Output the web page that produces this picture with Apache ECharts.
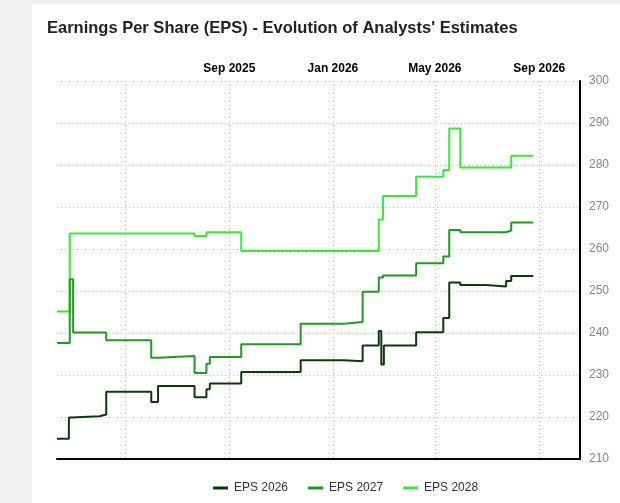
<!DOCTYPE html>
<html>
<head>
<meta charset="utf-8">
<script src="https://cdn.jsdelivr.net/npm/echarts@6/dist/echarts.min.js"></script>
<style>
  html, body { margin: 0; padding: 0; background: #f1f1f1; }
  #card { position: absolute; left: 32px; top: 4px; width: 588px; height: 499px; background: #ffffff; }
  #main { position: absolute; left: 0; top: 0; width: 620px; height: 503px; }
</style>
</head>
<body>
<div id="card"></div>
<div id="main"></div>
<script>
// ---- Data (change points; value holds from date onward) ----
const seriesNames = ['EPS 2026', 'EPS 2027', 'EPS 2028'];

const eps2026Dates  = ['2025-02-10','2025-02-24','2025-02-27','2025-04-01','2025-04-09','2025-06-01','2025-06-09','2025-07-22','2025-08-05','2025-08-09','2025-09-15','2025-11-24','2026-01-14','2026-02-05','2026-02-24','2026-02-27','2026-03-02','2026-04-09','2026-05-11','2026-05-18','2026-05-31','2026-06-30','2026-07-24','2026-07-30','2026-08-25'];
const eps2026Values = [214.8, 219.9, 220.2, 220.6, 226.0, 223.6, 227.4, 224.7, 226.6, 228.0, 230.7, 233.5, 233.3, 237.0, 240.5, 232.5, 237.0, 240.2, 243.6, 252.0, 251.4, 251.1, 252.4, 253.6, 253.6];

const eps2027Dates  = ['2025-02-10','2025-02-25','2025-03-01','2025-04-09','2025-06-01','2025-06-09','2025-07-22','2025-08-05','2025-08-09','2025-09-15','2025-11-24','2026-01-14','2026-02-05','2026-02-24','2026-03-01','2026-04-09','2026-05-11','2026-05-18','2026-05-31','2026-07-24','2026-07-30','2026-08-25'];
const eps2027Values = [237.6, 252.8, 240.1, 238.3, 234.1, 234.5, 230.5, 232.7, 234.3, 237.3, 242.2, 242.6, 249.8, 253.2, 253.7, 256.6, 258.2, 264.5, 264.0, 264.4, 266.3, 266.3];

const eps2028Dates  = ['2025-02-10','2025-02-25','2025-07-22','2025-08-05','2025-09-15','2026-02-24','2026-03-01','2026-04-09','2026-05-11','2026-05-18','2026-05-31','2026-07-30','2026-08-25'];
const eps2028Values = [245.1, 263.7, 263.1, 264.0, 259.5, 267.0, 272.6, 277.2, 278.8, 288.7, 279.4, 282.2, 282.2];

const xMinDate = '2025-02-10';
const xMaxDate = '2026-10-19';
const gridDates  = ['2025-05-01','2025-09-01','2026-01-01','2026-05-01','2026-09-01'];
const labelDates = ['2025-09-01','2026-01-01','2026-05-01','2026-09-01'];
const monthNames = ['Jan','Feb','Mar','Apr','May','Jun','Jul','Aug','Sep','Oct','Nov','Dec'];

const yMin = 210, yMax = 300, yStep = 10;
const colors = ['#0b3b0b', '#1f9a1f', '#35ec35'];

// ---- helpers ----
function toTime(s) {
  const p = s.split('-').map(Number);
  return new Date(p[0], p[1] - 1, p[2]).getTime();
}
function pairs(dates, values) {
  return dates.map((d, i) => [toTime(d), values[i]]);
}

const chart = echarts.init(document.getElementById('main'), null, { renderer: 'canvas' });

const FONT = 'Arial, "Liberation Sans", sans-serif';
const option = {
  backgroundColor: 'transparent',
  animation: false,
  color: colors,
  title: {
    text: "Earnings Per Share (EPS) - Evolution of Analysts' Estimates",
    left: 47,
    top: 20,
    padding: 0,
    textStyle: { fontFamily: FONT, fontSize: 16.5, fontWeight: 'bold', color: '#222' }
  },
  legend: {
    data: seriesNames,
    left: 213,
    top: 482,
    padding: 0,
    itemGap: 20,
    itemWidth: 15,
    itemHeight: 3,
    icon: 'rect',
    textStyle: { fontFamily: FONT, fontSize: 12, color: '#333', padding: [0, 0, 0, 1] }
  },
  grid: { left: 57, right: 40, top: 81, bottom: 44, containLabel: false },
  xAxis: [
    {
      type: 'value',
      position: 'top',
      min: toTime(xMinDate),
      max: toTime(xMaxDate),
      axisLine: { show: false },
      axisTick: { show: false, customValues: gridDates.map(toTime) },
      axisLabel: {
        customValues: labelDates.map(toTime),
        margin: 6,
        fontFamily: FONT,
        fontSize: 12,
        fontWeight: 'bold',
        color: '#000',
        formatter: function (v) {
          const d = new Date(v);
          return monthNames[d.getMonth()] + ' ' + d.getFullYear();
        }
      },
      splitLine: { show: true, lineStyle: { type: [1, 3], color: '#b8b8b8', width: 1 } }
    },
    {
      type: 'value',
      position: 'bottom',
      min: toTime(xMinDate),
      max: toTime(xMaxDate),
      axisLine: { show: true, onZero: false, lineStyle: { color: '#000', width: 2 } },
      axisTick: { show: false },
      axisLabel: { show: false },
      splitLine: { show: false }
    }
  ],
  yAxis: {
    type: 'value',
    position: 'right',
    min: yMin,
    max: yMax,
    interval: yStep,
    axisLine: { show: true, onZero: false, lineStyle: { color: '#000', width: 2 } },
    axisTick: { show: false },
    axisLabel: { margin: 9, fontFamily: FONT, fontSize: 12, color: '#858585' },
    splitLine: { show: true, lineStyle: { type: [1, 3], color: '#b8b8b8', width: 1 } }
  },
  series: [
    { name: seriesNames[0], type: 'line', step: 'end', xAxisIndex: 0, showSymbol: false, symbol: 'none',
      lineStyle: { width: 2, color: colors[0] }, data: pairs(eps2026Dates, eps2026Values), z: 4 },
    { name: seriesNames[1], type: 'line', step: 'end', xAxisIndex: 0, showSymbol: false, symbol: 'none',
      lineStyle: { width: 2, color: colors[1] }, data: pairs(eps2027Dates, eps2027Values), z: 3 },
    { name: seriesNames[2], type: 'line', step: 'end', xAxisIndex: 0, showSymbol: false, symbol: 'none',
      lineStyle: { width: 2, color: colors[2] }, data: pairs(eps2028Dates, eps2028Values), z: 2 }
  ]
};
chart.setOption(option);
</script>
</body>
</html>
